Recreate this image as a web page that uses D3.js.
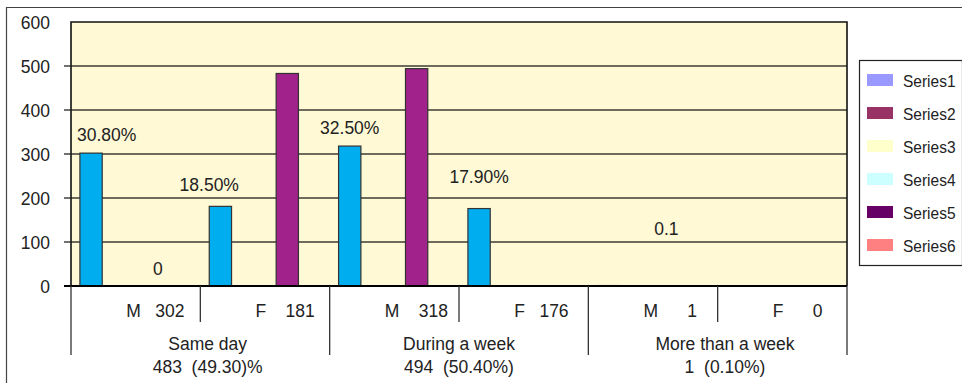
<!DOCTYPE html>
<html><head><meta charset="utf-8">
<script src="https://cdn.jsdelivr.net/npm/d3@7"></script>
<style>
html,body{margin:0;padding:0;background:#fff;}
svg{display:block;}
text{font-family:"Liberation Sans",Arial,sans-serif;fill:#222;}
</style></head><body>
<svg id="chart" width="962" height="383"></svg>
<script>
// ---- data ----
const categories = ["M   302", "F    181", "M    318", "F   176", "M      1", "F      0"];
const groups = ["   Same day", "During a week", "   More than a week"];
const groupTotals = ["   483  (49.30)%", "494  (50.40%)", "   1  (0.10%)"];
const seriesBlue = [302, 181, 318, 176, 1, 0];
const seriesPurple = [0, 483, 494, 0, 0, 0];
const labelTexts = ["30.80%", "0", "18.50%", "32.50%", "17.90%", "0.1"];
const labelCats = [0, 0, 1, 2, 3, 4];
const labelSlots = [0.7, 3, -0.5, 0, 0, 2.6];
const labelValues = [343, 39, 230, 360, 248, 130];
const yTicks = [0, 100, 200, 300, 400, 500, 600];
const legendNames = ["Series1", "Series2", "Series3", "Series4", "Series5", "Series6"];
const legendColors = ["#9999FF", "#993366", "#FFFFCC", "#CCFFFF", "#660066", "#FF8080"];

// ---- layout ----
const svg = d3.select("#chart");
const L = 71, R = 847, T = 22, B = 286;
const y = d3.scaleLinear().domain([0, 600]).range([B, T]);
const x0 = d3.scaleBand().domain(d3.range(categories.length)).range([L, R]).padding(0);
const x1 = d3.scaleBand().domain(d3.range(5)).range([0, x0.bandwidth()]).paddingInner(0).paddingOuter(0.4);
const fs = "17.5px";
const SY = 1.07;
function place(sel, fx, fy, k) {
  sel.attr("transform", (d, i) => `translate(${fx(d, i)},${fy(d, i)}) scale(1,${k || SY})`);
}

// outer frame
svg.append("path").attr("d", "M6.5,383V7.5H962").attr("fill", "none").attr("stroke", "#444").attr("stroke-width", 1.2);

// plot background
svg.append("rect").attr("x", L).attr("y", T).attr("width", R - L).attr("height", B - T).attr("fill", "#FFF9D5");

// gridlines
svg.append("g").selectAll("line").data(yTicks.filter(t => t > 0 && t < 600)).join("line")
  .attr("x1", L).attr("x2", R).attr("y1", d => y(d)).attr("y2", d => y(d))
  .attr("stroke", "#3d3d33").attr("stroke-width", 1.3);

// bars
function drawSeries(vals, slot, color) {
  svg.append("g").selectAll("rect").data(vals).join("rect")
    .attr("x", (d, i) => x0(i) + x1(slot))
    .attr("y", d => y(d))
    .attr("width", x1.bandwidth())
    .attr("height", d => y(0) - y(d))
    .attr("fill", color).attr("stroke", "#333").attr("stroke-width", 1.2)
    .attr("display", d => d > 0 ? null : "none");
}
drawSeries(seriesBlue, 0, "#00AEEF");
drawSeries(seriesPurple, 3, "#A0228A");

// plot border
svg.append("path").attr("d", `M${L},${B}V${T}H${R}V${B}`).attr("fill", "none").attr("stroke", "#111").attr("stroke-width", 1.6);

// y ticks & labels
svg.append("g").selectAll("line").data(yTicks.filter(t => t < 600)).join("line")
  .attr("x1", L - 7).attr("x2", L).attr("y1", d => y(d)).attr("y2", d => y(d))
  .attr("stroke", "#222").attr("stroke-width", 1.3);
svg.append("g").selectAll("text").data(yTicks).join("text")
  .attr("text-anchor", "end")
  .attr("dominant-baseline", "central").style("font-size", fs).text(d => d)
  .call(place, () => 50, d => y(d) + 0.5);

// x axis baseline
svg.append("line").attr("x1", L - 7).attr("x2", R).attr("y1", B).attr("y2", B).attr("stroke", "#000").attr("stroke-width", 2.2);

// category dividers
const innerX = d3.range(1, categories.length, 2).map(i => x0(i));
const outerX = d3.range(0, categories.length, 2).map(i => x0(i)).concat([R]);
svg.append("g").selectAll("line").data(innerX).join("line")
  .attr("x1", d => d).attr("x2", d => d).attr("y1", B).attr("y2", 322)
  .attr("stroke", "#333").attr("stroke-width", 1.3);
svg.append("g").selectAll("line").data(outerX).join("line")
  .attr("x1", d => d).attr("x2", d => d).attr("y1", B).attr("y2", 355)
  .attr("stroke", "#333").attr("stroke-width", 1.3);

// category labels
svg.append("g").selectAll("text").data(categories).join("text")
  .attr("xml:space", "preserve").style("white-space", "pre")
  .style("font-size", fs).text(d => d)
  .call(place, (d, i) => x0(i) + x0.bandwidth() / 2 - 9.5, () => 316.5);

// group labels
svg.append("g").selectAll("text").data(groups).join("text")
  .attr("text-anchor", "middle").attr("xml:space", "preserve").style("white-space", "pre")
  .style("font-size", fs).text(d => d)
  .call(place, (d, i) => x0(2 * i) + x0.bandwidth(), () => 350);
svg.append("g").selectAll("text").data(groupTotals).join("text")
  .attr("text-anchor", "middle").attr("xml:space", "preserve").style("white-space", "pre")
  .style("font-size", fs).text(d => d)
  .call(place, (d, i) => x0(2 * i) + x0.bandwidth(), () => 372.5);

// data labels
svg.append("g").selectAll("text").data(labelTexts).join("text")
  .attr("text-anchor", "middle").attr("dominant-baseline", "central")
  .style("font-size", fs).text(d => d)
  .call(place, (d, i) => x0(labelCats[i]) + x1(0) + (labelSlots[i] + 0.5) * x1.step(), (d, i) => y(labelValues[i]));

// legend
const lg = svg.append("g");
lg.append("rect").attr("x", 859.5).attr("y", 60.5).attr("width", 103).attr("height", 205)
  .attr("fill", "#fff").attr("stroke", "#222").attr("stroke-width", 1.2);
const items = lg.selectAll("g").data(legendNames).join("g")
  .attr("transform", (d, i) => `translate(0,${80 + i * 33})`);
items.append("rect").attr("x", 867).attr("y", -6).attr("width", 26).attr("height", 12)
  .attr("fill", (d, i) => legendColors[i]);
items.append("text").attr("dominant-baseline", "central")
  .style("font-size", "15.5px").text(d => d)
  .attr("transform", "translate(903,0.5) scale(1,1.1)");
</script>
</body></html>
